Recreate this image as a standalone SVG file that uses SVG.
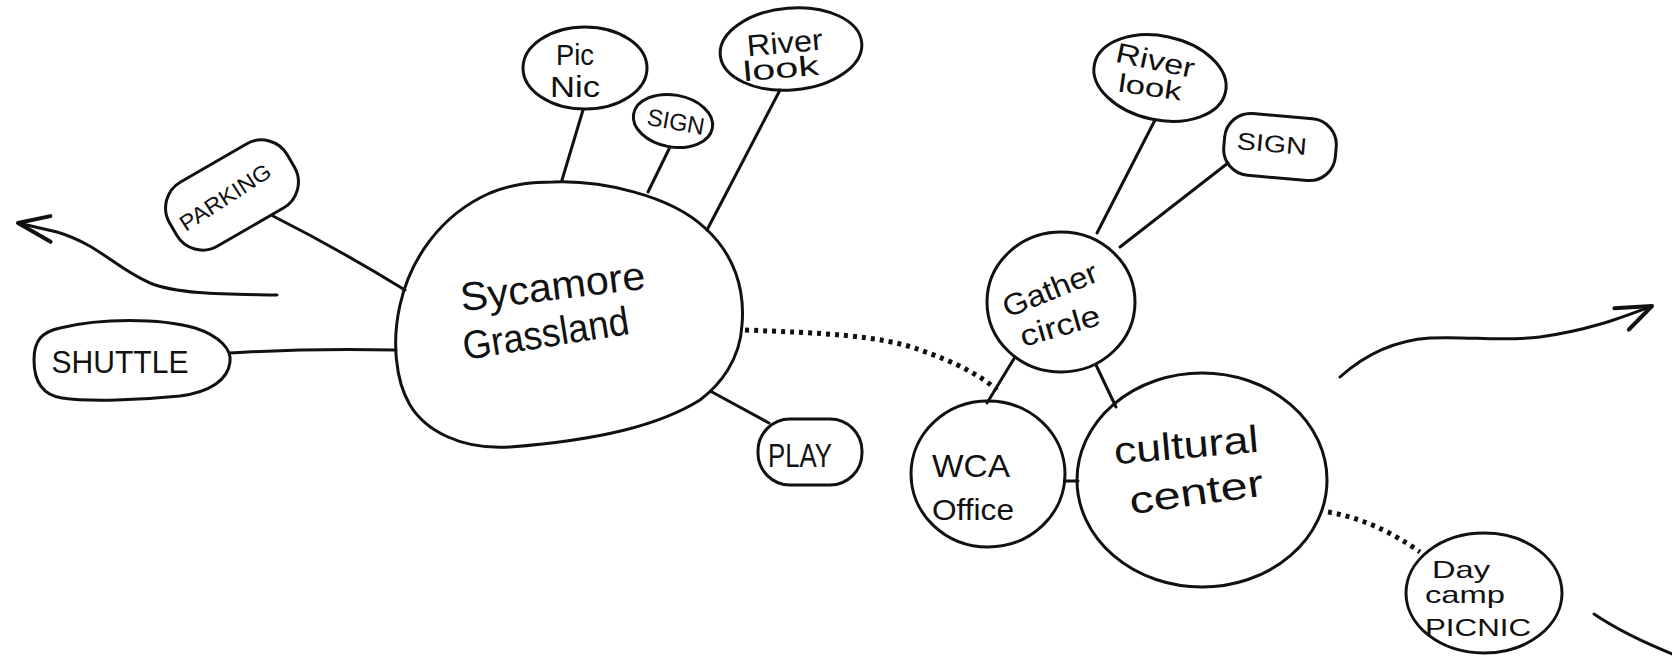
<svg xmlns="http://www.w3.org/2000/svg" width="1672" height="660" viewBox="0 0 1672 660">
  <style>
    .shape { fill: none; stroke: #111; stroke-width: 3; stroke-linejoin: round; }
    .link { fill: none; stroke: #111; stroke-width: 3; stroke-linecap: round; }
    .dots { fill: none; stroke: #111; stroke-width: 5; stroke-dasharray: 4 5; }
    .flow { fill: none; stroke: #111; stroke-width: 3; stroke-linecap: round; }
    text { font-family: "Liberation Sans", "DejaVu Sans", sans-serif; fill: #111; text-anchor: middle; }
  </style>
  <defs>
    <marker id="arrowhead" viewBox="-40 -20 44 40" refX="0" refY="0" markerWidth="44" markerHeight="40" markerUnits="userSpaceOnUse" orient="auto">
      <path d="M-36,-11 L0,0 L-30,14" fill="none" stroke="#111" stroke-width="4" stroke-linecap="round" stroke-linejoin="round"/>
    </marker>
  </defs>
  <rect width="1672" height="660" fill="#fff"/>

  <!-- connectors -->
  <g id="connectors">
    <path class="link" d="M273,216 Q340,250 405,290"/>
    <path class="link" d="M230,353 Q310,348 396,350"/>
    <path class="link" d="M583,110 L562,180"/>
    <path class="link" d="M670,147 L648,192"/>
    <path class="link" d="M780,90 L707,230"/>
    <path class="link" d="M712,392 L769,423"/>
    <path class="link" d="M1015,357 L987,403"/>
    <path class="link" d="M1096,365 L1116,407"/>
    <path class="link" d="M1065,481 L1078,481"/>
    <path class="link" d="M1155,120 L1097,233"/>
    <path class="link" d="M1228,163 L1120,247"/>
    <path class="dots" d="M745,330 C820,333 880,335 920,350 C955,362 980,375 997,390"/>
    <path class="dots" d="M1328,512 Q1375,520 1420,552"/>
    <path class="flow" d="M277,295 C230,294 180,295 150,283 C115,268 100,245 57,232 L18,223" marker-end="url(#arrowhead)"/>
    <path class="flow" d="M1340,377 C1370,350 1400,340 1430,338 C1470,336 1500,342 1540,337 C1590,330 1620,318 1652,306" marker-end="url(#arrowhead)"/>
    <path class="flow" d="M1594,614 Q1625,635 1675,655"/>
  </g>

  <g id="sycamore-grassland">
    <path class="shape" d="M553,182 C600,180 670,195 705,228 C735,255 745,290 742,325 C740,360 720,385 700,400 C660,425 600,440 510,447 C460,450 425,430 410,405 C395,380 392,340 400,305 C410,260 440,215 490,193 C515,183 535,182 553,182 Z"/>
    <text x="553" y="300" font-size="40" transform="rotate(-7 553 290)" textLength="186" lengthAdjust="spacingAndGlyphs">Sycamore</text>
    <text x="546" y="347" font-size="40" transform="rotate(-9 546 335)" textLength="168" lengthAdjust="spacingAndGlyphs">Grassland</text>
  </g>

  <g id="parking">
    <rect class="shape" x="-68" y="-37" width="136" height="74" rx="30" transform="translate(232,195) rotate(-30)"/>
    <text x="0" y="8" font-size="22" transform="translate(225,197) rotate(-33)" textLength="104" lengthAdjust="spacingAndGlyphs">PARKING</text>
  </g>

  <g id="shuttle">
    <path class="shape" d="M60,328 C100,318 160,318 195,328 C220,336 232,350 230,362 C228,380 210,392 180,396 C140,400 90,402 62,398 C42,395 34,380 34,360 C34,340 42,332 60,328 Z"/>
    <text x="120" y="373" font-size="32" textLength="137" lengthAdjust="spacingAndGlyphs">SHUTTLE</text>
  </g>

  <g id="play">
    <rect class="shape" x="758" y="419" width="104" height="66" rx="32"/>
    <text x="800" y="467" font-size="34" textLength="64" lengthAdjust="spacingAndGlyphs">PLAY</text>
  </g>

  <g id="picnic-1">
    <ellipse class="shape" cx="585" cy="68" rx="62" ry="41"/>
    <text x="575" y="65" font-size="30" textLength="38" lengthAdjust="spacingAndGlyphs">Pic</text>
    <text x="575" y="97" font-size="30" textLength="50" lengthAdjust="spacingAndGlyphs">Nic</text>
  </g>

  <g id="sign-1">
    <ellipse class="shape" cx="673" cy="121" rx="40" ry="26" transform="rotate(10 673 121)"/>
    <text x="676" y="130" font-size="24" transform="rotate(10 676 121)" textLength="58" lengthAdjust="spacingAndGlyphs">SIGN</text>
  </g>

  <g id="river-look-1">
    <ellipse class="shape" cx="791" cy="49" rx="71" ry="41" transform="rotate(-5 791 49)"/>
    <text x="785" y="53" font-size="30" transform="rotate(-5 785 45)" textLength="76" lengthAdjust="spacingAndGlyphs">River</text>
    <text x="781" y="78" font-size="28" transform="rotate(-5 781 70)" textLength="76" lengthAdjust="spacingAndGlyphs">look</text>
  </g>

  <g id="gather-circle">
    <ellipse class="shape" cx="1061" cy="302" rx="74" ry="70"/>
    <text x="1050" y="300" font-size="30" transform="rotate(-22 1050 290)" textLength="100" lengthAdjust="spacingAndGlyphs">Gather</text>
    <text x="1060" y="336" font-size="30" transform="rotate(-16 1060 326)" textLength="82" lengthAdjust="spacingAndGlyphs">circle</text>
  </g>

  <g id="river-look-2">
    <ellipse class="shape" cx="1160" cy="78" rx="67" ry="42" transform="rotate(12 1160 78)"/>
    <text x="1155" y="70" font-size="28" transform="rotate(12 1155 62)" textLength="80" lengthAdjust="spacingAndGlyphs">River</text>
    <text x="1150" y="96" font-size="26" transform="rotate(8 1150 88)" textLength="64" lengthAdjust="spacingAndGlyphs">look</text>
  </g>

  <g id="sign-2">
    <rect class="shape" x="-56" y="-31" width="112" height="62" rx="26" transform="translate(1280,147) rotate(5)"/>
    <text x="1272" y="152" font-size="24" transform="rotate(5 1272 142)" textLength="70" lengthAdjust="spacingAndGlyphs">SIGN</text>
  </g>

  <g id="wca-office">
    <ellipse class="shape" cx="988" cy="474" rx="77" ry="73"/>
    <text x="971" y="477" font-size="32" textLength="78" lengthAdjust="spacingAndGlyphs">WCA</text>
    <text x="973" y="520" font-size="30" textLength="82" lengthAdjust="spacingAndGlyphs">Office</text>
  </g>

  <g id="cultural-center">
    <ellipse class="shape" cx="1202" cy="480" rx="125" ry="107"/>
    <text x="1186" y="458" font-size="38" transform="rotate(-5 1186 445)" textLength="145" lengthAdjust="spacingAndGlyphs">cultural</text>
    <text x="1196" y="505" font-size="38" transform="rotate(-8 1196 490)" textLength="135" lengthAdjust="spacingAndGlyphs">center</text>
  </g>

  <g id="day-camp-picnic">
    <ellipse class="shape" cx="1484" cy="593" rx="78" ry="60"/>
    <text x="1461" y="578" font-size="24" textLength="58" lengthAdjust="spacingAndGlyphs">Day</text>
    <text x="1465" y="603" font-size="24" textLength="80" lengthAdjust="spacingAndGlyphs">camp</text>
    <text x="1478" y="636" font-size="24" textLength="106" lengthAdjust="spacingAndGlyphs">PICNIC</text>
  </g>
</svg>
